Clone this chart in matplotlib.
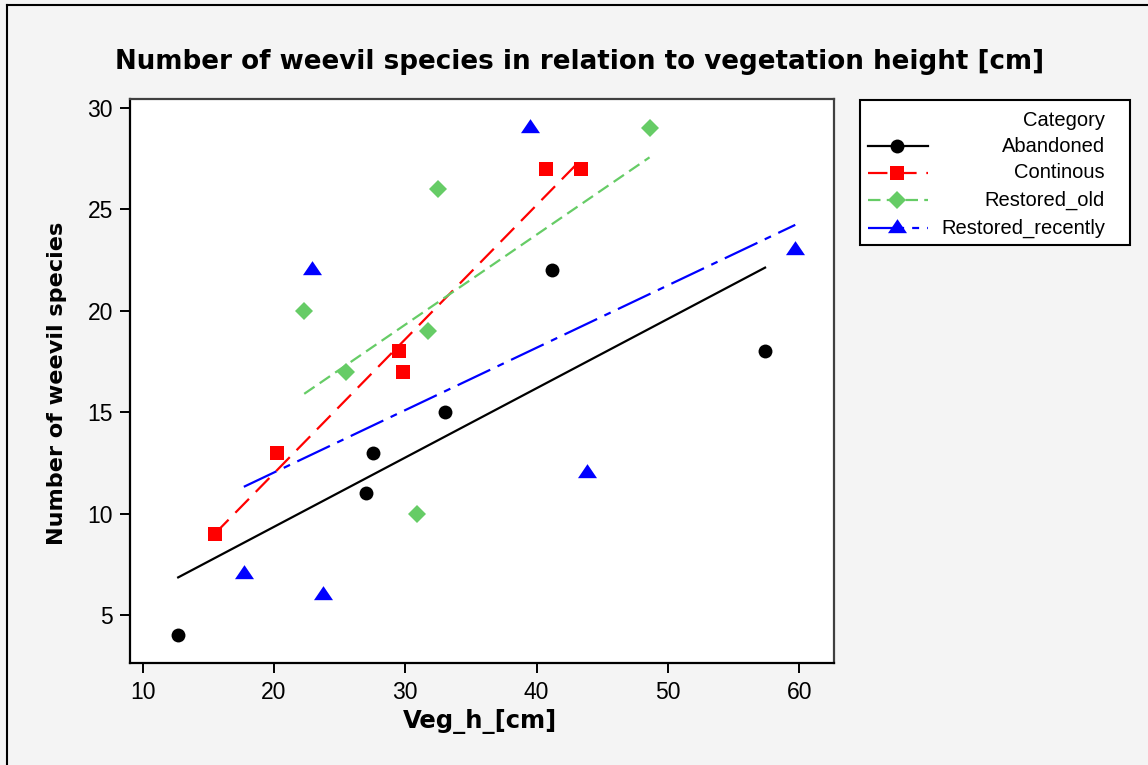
import matplotlib
matplotlib.use('Agg')
import matplotlib.pyplot as plt
from matplotlib.lines import Line2D
from matplotlib.patches import Rectangle
from matplotlib.path import Path
import numpy as np

plt.rcParams['font.family'] = ['Liberation Sans', 'DejaVu Sans']
plt.rcParams['lines.scale_dashes'] = False

# data
categories = ['Abandoned', 'Continous', 'Restored_old', 'Restored_recently']

abandoned_x = [12.7, 27.0, 27.5, 33.0, 41.2, 57.4]
abandoned_y = [4, 11, 13, 15, 22, 18]

continous_x = [15.5, 20.2, 29.5, 29.8, 40.7, 43.4]
continous_y = [9, 13, 18, 17, 27, 27]

restored_old_x = [22.3, 25.5, 30.9, 31.7, 32.5, 48.6]
restored_old_y = [20, 17, 10, 19, 26, 29]

restored_recently_x = [17.7, 22.9, 23.7, 39.5, 43.8, 59.7]
restored_recently_y = [7, 22, 6, 29, 12, 23]

x_ticks = [10, 20, 30, 40, 50, 60]
y_ticks = [5, 10, 15, 20, 25, 30]

# triangle with its centroid on the data point (like Minitab)
tri = Path([(0, 9.33), (-9.5, -4.67), (9.5, -4.67), (0, 9.33)],
           [Path.MOVETO, Path.LINETO, Path.LINETO, Path.CLOSEPOLY])

styles = {
    'Abandoned': dict(color='black', marker='o', ms=10, ls='-'),
    'Continous': dict(color='#ff0000', marker='s', ms=9.8, ls=(0, (14, 7))),
    'Restored_old': dict(color='#66cc66', marker='D', ms=9.2, ls=(0, (9, 4.5))),
    'Restored_recently': dict(color='#0000ff', marker=tri, ms=13.7, ls=(0, (26, 5.8, 5, 5.8))),
}
series = {
    'Abandoned': (abandoned_x, abandoned_y),
    'Continous': (continous_x, continous_y),
    'Restored_old': (restored_old_x, restored_old_y),
    'Restored_recently': (restored_recently_x, restored_recently_y),
}

W, H = 1148, 765
fig = plt.figure(figsize=(W / 100, H / 100), dpi=100, facecolor='#f4f4f4')


def px(x, y):
    return x / W, 1 - y / H


ax = fig.add_axes([130 / W, 1 - 663 / H, (834 - 130) / W, (663 - 99) / H])
ax.set_facecolor('white')

LW = 1.6
for cat in categories:
    x, y = np.array(series[cat][0]), np.array(series[cat][1])
    st = styles[cat]
    ax.plot(x, y, linestyle='none', marker=st['marker'], ms=st['ms'],
            color=st['color'], mew=0, zorder=3)
    # least squares fit line over the range of the group
    k, b = np.polyfit(x, y, 1)
    xs = np.array([x.min(), x.max()])
    ax.plot(xs, k * xs + b, color=st['color'], lw=LW, linestyle=st['ls'], zorder=2)

ax.set_xlim(9.03, 62.65)
ax.set_ylim(2.63, 30.44)
ax.set_xticks(x_ticks)
ax.set_yticks(y_ticks)
ax.tick_params(direction='out', length=7.2, width=1.4, labelsize=16.5, colors='black')
ax.tick_params(axis='x', pad=6)
ax.tick_params(axis='y', pad=5)
for s in ['left', 'bottom']:
    ax.spines[s].set_linewidth(1.6)
    ax.spines[s].set_color('black')
for s in ['top', 'right']:
    ax.spines[s].set_linewidth(1.6)
    ax.spines[s].set_color('#404040')

bold = ['DejaVu Sans']
fig.text(*px(580, 62), 'Number of weevil species in relation to vegetation height [cm]',
         ha='center', va='center', fontsize=18.8, fontweight='bold', family=bold)
fig.text(*px(480, 722), 'Veg_h_[cm]', ha='center', va='center', fontsize=17.5,
         fontweight='bold', family=bold)
fig.text(*px(57, 383), 'Number of weevil species', ha='center', va='center',
         rotation=90, fontsize=16.1, fontweight='bold', family=bold)

# legend drawn in figure pixels
x0, y0 = px(860, 245)
x1, y1 = px(1130, 100)
fig.add_artist(Rectangle((x0, y0), x1 - x0, y1 - y0, transform=fig.transFigure,
                         facecolor='white', edgecolor='black', lw=1.5))
fig.text(*px(1105, 120), 'Category', ha='right', va='center', fontsize=14.5)
rows = [146, 173, 200, 228]
for cat, ry in zip(categories, rows):
    st = styles[cat]
    lx0, ly = px(868, ry)
    lx1, _ = px(928, ry)
    mx, _ = px(897, ry)
    fig.add_artist(Line2D([lx0, lx1], [ly, ly], transform=fig.transFigure,
                          color=st['color'], lw=LW, linestyle=st['ls']))
    fig.add_artist(Line2D([mx], [ly], transform=fig.transFigure, marker=st['marker'],
                          ms=st['ms'], color=st['color'], mew=0, linestyle='none'))
    fig.text(*px(1105, ry), cat, ha='right', va='center', fontsize=14.5)

# outer frame (left and top edges visible)
fig.add_artist(Line2D([7 / W, 7 / W], [0, 1 - 5 / H], transform=fig.transFigure,
                      color='black', lw=1.5))
fig.add_artist(Line2D([7 / W, 1], [1 - 5 / H, 1 - 5 / H], transform=fig.transFigure,
                      color='black', lw=1.5))

fig.savefig('out.png', dpi=100, facecolor=fig.get_facecolor())
